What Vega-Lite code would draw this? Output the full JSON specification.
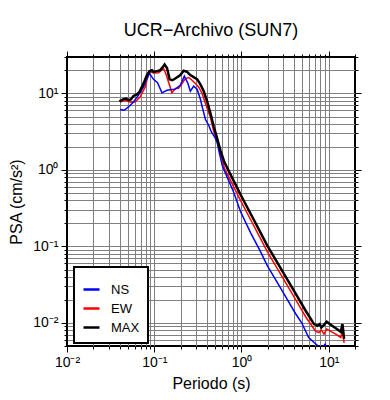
{
  "$schema": "https://vega.github.io/schema/vega-lite/v6.json",
  "width": 288,
  "height": 289,
  "autosize": {"type": "none"},
  "padding": {"left": 67, "top": 57, "right": 35, "bottom": 54},
  "background": "white",
  "title": {"text": "UCR−Archivo (SUN7)", "font": "Liberation Sans", "fontSize": 18, "fontWeight": "normal", "color": "black", "anchor": "middle", "offset": 10},
  "config": {
    "font": "Liberation Sans",
    "view": {"stroke": "black", "strokeWidth": 2},
    "axis": {"labelFont": "Liberation Sans", "titleFont": "Liberation Sans", "labelColor": "black", "titleColor": "black", "titleFontWeight": "normal", "tickColor": "black", "tickWidth": 1, "domain": false, "labelOverlap": false, "labelBound": false, "labelFlush": false},
    "legend": {"strokeWidth": 2}
  },
  "data": {"values": [
    {"c": "NS", "T": 0.0407, "PSA": 6.17}, {"c": "NS", "T": 0.0452, "PSA": 6.04}, {"c": "NS", "T": 0.0507, "PSA": 6.67}, {"c": "NS", "T": 0.0578, "PSA": 7.76}, {"c": "NS", "T": 0.066, "PSA": 9.5}, {"c": "NS", "T": 0.0753, "PSA": 12.2}, {"c": "NS", "T": 0.080, "PSA": 14.5}, {"c": "NS", "T": 0.0883, "PSA": 18.3}, {"c": "NS", "T": 0.098, "PSA": 15.3}, {"c": "NS", "T": 0.109, "PSA": 13.8}, {"c": "NS", "T": 0.1226, "PSA": 10.2}, {"c": "NS", "T": 0.140, "PSA": 11.0}, {"c": "NS", "T": 0.1528, "PSA": 11.2}, {"c": "NS", "T": 0.1743, "PSA": 11.4}, {"c": "NS", "T": 0.199, "PSA": 12.8}, {"c": "NS", "T": 0.2213, "PSA": 16.9}, {"c": "NS", "T": 0.2427, "PSA": 13.6}, {"c": "NS", "T": 0.2594, "PSA": 10.7}, {"c": "NS", "T": 0.2831, "PSA": 12.5}, {"c": "NS", "T": 0.3097, "PSA": 11.4}, {"c": "NS", "T": 0.338, "PSA": 8.42}, {"c": "NS", "T": 0.359, "PSA": 6.35}, {"c": "NS", "T": 0.3857, "PSA": 4.60}, {"c": "NS", "T": 0.4207, "PSA": 3.84}, {"c": "NS", "T": 0.4518, "PSA": 3.14}, {"c": "NS", "T": 0.4932, "PSA": 2.70}, {"c": "NS", "T": 0.5256, "PSA": 2.30}, {"c": "NS", "T": 0.5585, "PSA": 1.65}, {"c": "NS", "T": 0.605, "PSA": 1.115}, {"c": "NS", "T": 0.685, "PSA": 0.807}, {"c": "NS", "T": 0.816, "PSA": 0.5085}, {"c": "NS", "T": 0.974, "PSA": 0.2867}, {"c": "NS", "T": 1.269, "PSA": 0.152}, {"c": "NS", "T": 1.653, "PSA": 0.0857}, {"c": "NS", "T": 1.974, "PSA": 0.0562}, {"c": "NS", "T": 2.459, "PSA": 0.0368}, {"c": "NS", "T": 3.204, "PSA": 0.02204}, {"c": "NS", "T": 4.175, "PSA": 0.0132}, {"c": "NS", "T": 4.895, "PSA": 0.01006}, {"c": "NS", "T": 5.89, "PSA": 0.00646}, {"c": "NS", "T": 6.78, "PSA": 0.00555}, {"c": "NS", "T": 7.67, "PSA": 0.00495}, {"c": "NS", "T": 8.31, "PSA": 0.00459}, {"c": "NS", "T": 9.07, "PSA": 0.00526}, {"c": "NS", "T": 9.74, "PSA": 0.00444}, {"c": "NS", "T": 12.04, "PSA": 0.0041}, {"c": "NS", "T": 15.0, "PSA": 0.0037},
    {"c": "EW", "T": 0.0407, "PSA": 7.76}, {"c": "EW", "T": 0.0464, "PSA": 8.17}, {"c": "EW", "T": 0.053, "PSA": 7.76}, {"c": "EW", "T": 0.0605, "PSA": 7.76}, {"c": "EW", "T": 0.069, "PSA": 9.03}, {"c": "EW", "T": 0.0788, "PSA": 12.2}, {"c": "EW", "T": 0.086, "PSA": 18.3}, {"c": "EW", "T": 0.090, "PSA": 19.2}, {"c": "EW", "T": 0.0982, "PSA": 18.5}, {"c": "EW", "T": 0.112, "PSA": 18.7}, {"c": "EW", "T": 0.128, "PSA": 21.3}, {"c": "EW", "T": 0.1374, "PSA": 17.4}, {"c": "EW", "T": 0.1597, "PSA": 10.2}, {"c": "EW", "T": 0.1743, "PSA": 11.6}, {"c": "EW", "T": 0.1903, "PSA": 11.7}, {"c": "EW", "T": 0.2082, "PSA": 13.5}, {"c": "EW", "T": 0.2272, "PSA": 15.7}, {"c": "EW", "T": 0.2479, "PSA": 16.2}, {"c": "EW", "T": 0.2713, "PSA": 14.9}, {"c": "EW", "T": 0.296, "PSA": 13.5}, {"c": "EW", "T": 0.323, "PSA": 12.2}, {"c": "EW", "T": 0.3533, "PSA": 10.0}, {"c": "EW", "T": 0.4036, "PSA": 6.41}, {"c": "EW", "T": 0.4406, "PSA": 4.89}, {"c": "EW", "T": 0.4804, "PSA": 3.21}, {"c": "EW", "T": 0.5256, "PSA": 2.37}, {"c": "EW", "T": 0.5735, "PSA": 1.65}, {"c": "EW", "T": 0.6376, "PSA": 1.05}, {"c": "EW", "T": 0.747, "PSA": 0.731}, {"c": "EW", "T": 0.974, "PSA": 0.400}, {"c": "EW", "T": 1.269, "PSA": 0.2253}, {"c": "EW", "T": 1.653, "PSA": 0.1269}, {"c": "EW", "T": 1.974, "PSA": 0.0857}, {"c": "EW", "T": 2.459, "PSA": 0.0562}, {"c": "EW", "T": 3.204, "PSA": 0.03365}, {"c": "EW", "T": 4.175, "PSA": 0.02014}, {"c": "EW", "T": 5.44, "PSA": 0.01206}, {"c": "EW", "T": 7.09, "PSA": 0.00775}, {"c": "EW", "T": 7.74, "PSA": 0.0075}, {"c": "EW", "T": 8.24, "PSA": 0.00807}, {"c": "EW", "T": 8.83, "PSA": 0.00715}, {"c": "EW", "T": 9.48, "PSA": 0.00832}, {"c": "EW", "T": 10.54, "PSA": 0.00775}, {"c": "EW", "T": 12.04, "PSA": 0.00715}, {"c": "EW", "T": 13.74, "PSA": 0.00646}, {"c": "EW", "T": 14.37, "PSA": 0.0079}, {"c": "EW", "T": 15.0, "PSA": 0.0055},
    {"c": "MAX", "T": 0.0399, "PSA": 7.9}, {"c": "MAX", "T": 0.0444, "PSA": 8.42}, {"c": "MAX", "T": 0.0477, "PSA": 8.60}, {"c": "MAX", "T": 0.0507, "PSA": 8.17}, {"c": "MAX", "T": 0.0539, "PSA": 8.34}, {"c": "MAX", "T": 0.0578, "PSA": 9.30}, {"c": "MAX", "T": 0.0632, "PSA": 9.70}, {"c": "MAX", "T": 0.0678, "PSA": 10.5}, {"c": "MAX", "T": 0.0722, "PSA": 12.2}, {"c": "MAX", "T": 0.0774, "PSA": 14.6}, {"c": "MAX", "T": 0.0825, "PSA": 17.4}, {"c": "MAX", "T": 0.0883, "PSA": 19.6}, {"c": "MAX", "T": 0.0942, "PSA": 20.2}, {"c": "MAX", "T": 0.0982, "PSA": 19.2}, {"c": "MAX", "T": 0.1075, "PSA": 19.6}, {"c": "MAX", "T": 0.1172, "PSA": 20.2}, {"c": "MAX", "T": 0.1259, "PSA": 22.3}, {"c": "MAX", "T": 0.1313, "PSA": 24.0}, {"c": "MAX", "T": 0.140, "PSA": 21.5}, {"c": "MAX", "T": 0.150, "PSA": 15.3}, {"c": "MAX", "T": 0.161, "PSA": 14.9}, {"c": "MAX", "T": 0.1743, "PSA": 15.7}, {"c": "MAX", "T": 0.199, "PSA": 17.4}, {"c": "MAX", "T": 0.2173, "PSA": 19.8}, {"c": "MAX", "T": 0.2377, "PSA": 19.2}, {"c": "MAX", "T": 0.2594, "PSA": 17.4}, {"c": "MAX", "T": 0.2831, "PSA": 16.4}, {"c": "MAX", "T": 0.3097, "PSA": 15.4}, {"c": "MAX", "T": 0.338, "PSA": 13.2}, {"c": "MAX", "T": 0.369, "PSA": 10.7}, {"c": "MAX", "T": 0.4036, "PSA": 7.92}, {"c": "MAX", "T": 0.4406, "PSA": 5.52}, {"c": "MAX", "T": 0.4804, "PSA": 3.73}, {"c": "MAX", "T": 0.5256, "PSA": 2.59}, {"c": "MAX", "T": 0.5735, "PSA": 1.81}, {"c": "MAX", "T": 0.6376, "PSA": 1.258}, {"c": "MAX", "T": 0.747, "PSA": 0.876}, {"c": "MAX", "T": 0.974, "PSA": 0.479}, {"c": "MAX", "T": 1.269, "PSA": 0.270}, {"c": "MAX", "T": 1.653, "PSA": 0.152}, {"c": "MAX", "T": 1.974, "PSA": 0.1028}, {"c": "MAX", "T": 2.459, "PSA": 0.0673}, {"c": "MAX", "T": 3.204, "PSA": 0.0403}, {"c": "MAX", "T": 4.175, "PSA": 0.0242}, {"c": "MAX", "T": 5.44, "PSA": 0.01445}, {"c": "MAX", "T": 6.78, "PSA": 0.00967}, {"c": "MAX", "T": 7.41, "PSA": 0.00919}, {"c": "MAX", "T": 7.88, "PSA": 0.00967}, {"c": "MAX", "T": 8.24, "PSA": 0.00873}, {"c": "MAX", "T": 8.83, "PSA": 0.00947}, {"c": "MAX", "T": 9.48, "PSA": 0.01038}, {"c": "MAX", "T": 10.54, "PSA": 0.00947}, {"c": "MAX", "T": 12.04, "PSA": 0.00852}, {"c": "MAX", "T": 13.74, "PSA": 0.00767}, {"c": "MAX", "T": 14.37, "PSA": 0.00967}, {"c": "MAX", "T": 15.0, "PSA": 0.00621}
  ]},
  "layer": [
    {
      "transform": [{"filter": "datum.c == 'EW'"}],
      "mark": {"type": "line", "clip": true, "strokeWidth": 1.5},
      "encoding": {
        "x": {"field": "T", "type": "quantitative", "scale": {"type": "log", "domain": [0.01, 20], "nice": false},
              "axis": {"orient": "bottom", "values": [0.02,0.03,0.04,0.05,0.06,0.07,0.08,0.09,0.1,0.2,0.3,0.4,0.5,0.6,0.7,0.8,0.9,1,2,3,4,5,6,7,8,9,10], "grid": true, "gridColor": "#808080", "gridWidth": 1, "labels": false, "ticks": false, "title": null}},
        "y": {"field": "PSA", "type": "quantitative", "scale": {"type": "log", "domain": [0.005, 30], "nice": false},
              "axis": {"orient": "left", "values": [0.006,0.007,0.008,0.009,0.01,0.02,0.03,0.04,0.05,0.06,0.07,0.08,0.09,0.1,0.2,0.3,0.4,0.5,0.6,0.7,0.8,0.9,1,2,3,4,5,6,7,8,9,10,20], "grid": true, "gridColor": "#808080", "gridWidth": 1, "labels": false, "ticks": false, "title": null}},
        "color": {"field": "c", "type": "nominal", "scale": {"domain": ["NS", "EW", "MAX"], "range": ["#0000ff", "#ff0000", "#000000"]},
                  "legend": {"title": " ", "titleFontSize": 5, "titlePadding": 0, "orient": "none", "legendX": 7, "legendY": 210, "fillColor": "white", "strokeColor": "black", "padding": 8, "symbolType": "stroke", "symbolSize": 256, "symbolStrokeWidth": 2.5, "labelFont": "Liberation Sans", "labelFontSize": 13, "labelColor": "black", "labelOffset": 10, "rowPadding": 2, "labelExpr": "datum.label + '\u00a0\u00a0\u00a0\u00a0\u00a0\u00a0'"}}
      }
    },
    {
      "transform": [{"filter": "datum.c == 'NS'"}],
      "mark": {"type": "line", "clip": true, "strokeWidth": 1.5},
      "encoding": {
        "x": {"field": "T", "type": "quantitative", "scale": {"type": "log", "domain": [0.01, 20], "nice": false},
              "axis": {"orient": "bottom", "values": [0.01,0.02,0.03,0.04,0.05,0.06,0.07,0.08,0.09,0.1,0.2,0.3,0.4,0.5,0.6,0.7,0.8,0.9,1,2,3,4,5,6,7,8,9,10,20], "grid": false,
                       "tickSize": {"condition": {"test": "abs(log(datum.value)/LN10 - round(log(datum.value)/LN10)) < 0.0001", "value": 6}, "value": 3},
                       "labelExpr": "datum.value == 0.01 ? '10⁻²' : datum.value == 0.1 ? '10⁻¹' : datum.value == 1 ? '10⁰' : datum.value == 10 ? '10¹' : ''",
                       "labelFontSize": 14, "labelPadding": 3, "title": "Periodo (s)", "titleFontSize": 16, "titlePadding": 6}},
        "y": {"field": "PSA", "type": "quantitative", "scale": {"type": "log", "domain": [0.005, 30], "nice": false},
              "axis": {"orient": "left", "values": [0.005,0.006,0.007,0.008,0.009,0.01,0.02,0.03,0.04,0.05,0.06,0.07,0.08,0.09,0.1,0.2,0.3,0.4,0.5,0.6,0.7,0.8,0.9,1,2,3,4,5,6,7,8,9,10,20,30], "grid": false,
                       "tickSize": {"condition": {"test": "abs(log(datum.value)/LN10 - round(log(datum.value)/LN10)) < 0.0001", "value": 6}, "value": 3},
                       "labelExpr": "datum.value == 0.01 ? '10⁻²' : datum.value == 0.1 ? '10⁻¹' : datum.value == 1 ? '10⁰' : datum.value == 10 ? '10¹' : ''",
                       "labelFontSize": 14, "labelPadding": 3, "title": "PSA (cm/s²)", "titleFontSize": 16, "titlePadding": 8}},
        "color": {"field": "c", "type": "nominal", "scale": {"domain": ["NS", "EW", "MAX"], "range": ["#0000ff", "#ff0000", "#000000"]},
                  "legend": {"title": " ", "titleFontSize": 5, "titlePadding": 0, "orient": "none", "legendX": 7, "legendY": 210, "fillColor": "white", "strokeColor": "black", "padding": 8, "symbolType": "stroke", "symbolSize": 256, "symbolStrokeWidth": 2.5, "labelFont": "Liberation Sans", "labelFontSize": 13, "labelColor": "black", "labelOffset": 10, "rowPadding": 2, "labelExpr": "datum.label + '\u00a0\u00a0\u00a0\u00a0\u00a0\u00a0'"}}
      }
    },
    {
      "transform": [{"filter": "datum.c == 'MAX'"}],
      "mark": {"type": "line", "clip": true, "strokeWidth": 2.5},
      "encoding": {
        "x": {"field": "T", "type": "quantitative", "scale": {"type": "log", "domain": [0.01, 20], "nice": false},
              "axis": {"orient": "top", "values": [0.01,0.02,0.03,0.04,0.05,0.06,0.07,0.08,0.09,0.1,0.2,0.3,0.4,0.5,0.6,0.7,0.8,0.9,1,2,3,4,5,6,7,8,9,10,20], "grid": false, "labels": false, "title": null,
                       "tickSize": {"condition": {"test": "abs(log(datum.value)/LN10 - round(log(datum.value)/LN10)) < 0.0001", "value": 6}, "value": 3}}},
        "y": {"field": "PSA", "type": "quantitative", "scale": {"type": "log", "domain": [0.005, 30], "nice": false},
              "axis": {"orient": "right", "values": [0.005,0.006,0.007,0.008,0.009,0.01,0.02,0.03,0.04,0.05,0.06,0.07,0.08,0.09,0.1,0.2,0.3,0.4,0.5,0.6,0.7,0.8,0.9,1,2,3,4,5,6,7,8,9,10,20,30], "grid": false, "labels": false, "title": null,
                       "tickSize": {"condition": {"test": "abs(log(datum.value)/LN10 - round(log(datum.value)/LN10)) < 0.0001", "value": 6}, "value": 3}}},
        "color": {"field": "c", "type": "nominal", "scale": {"domain": ["NS", "EW", "MAX"], "range": ["#0000ff", "#ff0000", "#000000"]},
                  "legend": {"title": " ", "titleFontSize": 5, "titlePadding": 0, "orient": "none", "legendX": 7, "legendY": 210, "fillColor": "white", "strokeColor": "black", "padding": 8, "symbolType": "stroke", "symbolSize": 256, "symbolStrokeWidth": 2.5, "labelFont": "Liberation Sans", "labelFontSize": 13, "labelColor": "black", "labelOffset": 10, "rowPadding": 2, "labelExpr": "datum.label + '\u00a0\u00a0\u00a0\u00a0\u00a0\u00a0'"}}
      }
    }
  ],
  "resolve": {"axis": {"x": "independent", "y": "independent"}}
}
